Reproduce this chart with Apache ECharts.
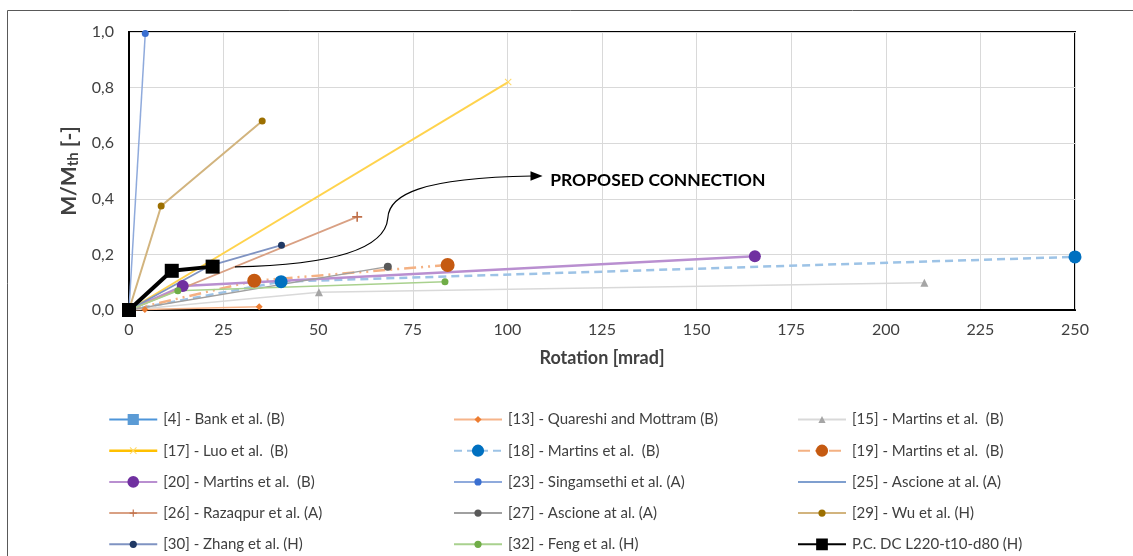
<!DOCTYPE html>
<html>
<head>
<meta charset="utf-8">
<script src="https://cdn.jsdelivr.net/npm/echarts@6/dist/echarts.min.js"></script>
<style>
  html, body { margin: 0; padding: 0; background: #fff; }
  #chart { width: 1133px; height: 556px; }
</style>
</head>
<body>
<div id="chart"></div>
<script>
// Rotation [mrad] vs normalised moment M/Mth for beam-column connections
const xTicks = [0, 25, 50, 75, 100, 125, 150, 175, 200, 225, 250];
const yTicks = [0, 0.2, 0.4, 0.6, 0.8, 1.0];

const bank4 = [[0, 0]];
const quareshi13 = [[0, 0], [4.2, 0.002], [34.4, 0.012]];
const martins15 = [[0, 0], [50.2, 0.064], [210.2, 0.098]];
const luo17 = [[0, 0], [100.2, 0.82]];
const martins18 = [[0, 0], [40.2, 0.102], [250, 0.191]];
const martins19 = [[0, 0], [33.1, 0.105], [84.2, 0.162]];
const martins20 = [[0, 0], [14.2, 0.086], [165.4, 0.193]];
const singamsethi23 = [[0, 0], [4.3, 0.995]];
const ascione25 = [[0, 0]];
const razaqpur26 = [[0, 0], [60.3, 0.335]];
const ascione27 = [[0, 0], [68.4, 0.156]];
const wu29 = [[0, 0], [8.5, 0.374], [35.2, 0.68]];
const zhang30 = [[0, 0], [21.5, 0.16], [40.3, 0.233]];
const feng32 = [[0, 0], [12.9, 0.069], [83.5, 0.102]];
const proposed = [[0, 0], [11.3, 0.141], [22.1, 0.156]];

const seriesNames = [
  '[4] - Bank et al. (B)',
  '[13] - Quareshi and Mottram (B)',
  '[15] - Martins et al.  (B)',
  '[17] - Luo et al.  (B)',
  '[18] - Martins et al.  (B) ',
  '[19] - Martins et al.  (B)  ',
  '[20] - Martins et al.  (B)   ',
  '[23] - Singamsethi et al. (A)',
  '[25] - Ascione at al. (A)',
  '[26] - Razaqpur et al. (A)',
  '[27] - Ascione at al. (A) ',
  '[29] - Wu et al. (H)',
  '[30] - Zhang et al. (H)',
  '[32] - Feng et al. (H)',
  'P.C. DC L220-t10-d80 (H)'
];

// annotation curve and arrow, in data units
const arrowCurve1 = [[28.0, 0.155], [53.1, 0.162], [67.7, 0.216], [68.4, 0.331]];
const arrowCurve2 = [[68.4, 0.331], [68.7, 0.414], [76.9, 0.475], [106.5, 0.482]];
const arrowHead = [[109.3, 0.482], [106.1, 0.499], [106.1, 0.465]];
const annotationAnchor = [111.3, 0.468];
const annotationText = 'PROPOSED CONNECTION';

const FONT = 'Lato, "Open Sans", sans-serif';
const CROSS = 'path://M1,0L5,4L9,0L10,1L6,5L10,9L9,10L5,6L1,10L0,9L4,5L0,1Z';
const PLUS = 'path://M4.2,0H5.8V4.2H10V5.8H5.8V10H4.2V5.8H0V4.2H4.2Z';

function line(name, data, color, width, symbol, symbolSize, symbolColor, extra) {
  return Object.assign({
    name: name,
    type: 'line',
    data: data,
    symbol: symbol,
    symbolSize: symbolSize,
    showSymbol: symbol !== 'none',
    lineStyle: { color: color, width: width },
    itemStyle: { color: symbolColor, borderWidth: 0 },
    emphasis: { disabled: true },
    animation: false
  }, extra || {});
}

const series = [
  line(seriesNames[1], quareshi13, '#f6b48a', 1.5, 'diamond', 7, '#ed7d31'),
  line(seriesNames[2], martins15, '#d9d9d9', 1.5, 'triangle', 8, '#a5a5a5'),
  line(seriesNames[3], luo17, '#ffd34d', 2, CROSS, 7, '#ffd966'),
  line(seriesNames[4], martins18, '#9dc3e6', 2.5, 'circle', 13, '#0070c0', { lineStyle: { color: '#9dc3e6', width: 2.5, type: [8, 5] } }),
  line(seriesNames[5], martins19, '#f4b183', 2.5, 'circle', 14, '#c55a11', { lineStyle: { color: '#f4b183', width: 2.5, type: [12, 5, 2, 5, 2, 5] } }),
  line(seriesNames[6], martins20, '#b98fd0', 2.5, 'circle', 12, '#7030a0'),
  line(seriesNames[7], singamsethi23, '#8faadc', 1.5, 'circle', 7, '#3a6fd1'),
  line(seriesNames[8], ascione25, '#7f9fcf', 1.5, 'none', 0, '#7f9fcf'),
  line(seriesNames[9], razaqpur26, '#d9a083', 1.8, PLUS, 10, '#c0704a'),
  line(seriesNames[10], ascione27, '#a0a0a0', 1.5, 'circle', 8, '#595959'),
  line(seriesNames[11], wu29, '#d2b47e', 2, 'circle', 7, '#9c6f00'),
  line(seriesNames[12], zhang30, '#7f93c2', 1.8, 'circle', 7, '#1f3864'),
  line(seriesNames[13], feng32, '#a9d18e', 1.5, 'circle', 7, '#70ad47'),
  line(seriesNames[0], bank4, '#4e95d9', 2.5, 'rect', 12, '#5b9bd5'),
  line(seriesNames[14], proposed, '#000000', 4, 'rect', 14, '#000000', { z: 10 })
];

// legend icon tweaks: larger markers get a border in their own colour
const legendIconStyle = {};
legendIconStyle[seriesNames[0]] = { itemStyle: { borderColor: '#5b9bd5', borderWidth: 4 } };
legendIconStyle[seriesNames[3]] = { lineStyle: { color: '#ffc000', width: 2.5 } };
legendIconStyle[seriesNames[4]] = { itemStyle: { borderColor: '#0070c0', borderWidth: 5 } };
legendIconStyle[seriesNames[5]] = { itemStyle: { borderColor: '#c55a11', borderWidth: 5 } };
legendIconStyle[seriesNames[6]] = { itemStyle: { borderColor: '#7030a0', borderWidth: 4.5 } };
legendIconStyle[seriesNames[8]] = { itemStyle: { opacity: 0 } };
legendIconStyle[seriesNames[9]] = { itemStyle: { borderColor: '#c0704a', borderWidth: 0 } };
legendIconStyle[seriesNames[14]] = { itemStyle: { borderColor: '#000000', borderWidth: 4.5 } };

function legendColumn(names, left) {
  return {
    orient: 'vertical',
    left: left,
    top: 412,
    height: 160,
    padding: 0,
    itemWidth: 48,
    itemHeight: 9,
    itemGap: 16.2,
    selectedMode: false,
    data: names.map(n => Object.assign({ name: n }, legendIconStyle[n] || {})),
    textStyle: { fontFamily: FONT, fontSize: 15, color: '#404040', lineHeight: 14, padding: [0, 0, 0, 1] }
  };
}

const chart = echarts.init(document.getElementById('chart'), null, { renderer: 'canvas' });

chart.setOption({
  backgroundColor: '#ffffff',
  animation: false,
  grid: {
    left: 129, right: 58, top: 32, bottom: 246,
    show: true, borderColor: '#000000', borderWidth: 2, backgroundColor: 'transparent'
  },
  xAxis: {
    type: 'value',
    min: xTicks[0], max: xTicks[xTicks.length - 1], interval: 25,
    name: 'Rotation [mrad]',
    nameLocation: 'middle',
    nameGap: 39,
    nameTextStyle: { fontFamily: FONT, fontSize: 18, fontWeight: 'bold', color: '#404040' },
    axisLine: { show: true, onZero: false, lineStyle: { color: '#000000', width: 2 } },
    axisTick: { show: false },
    axisLabel: { margin: 12, fontFamily: FONT, fontSize: 16, color: '#404040',
      formatter: v => xTicks.includes(v) ? String(v) : '' },
    splitLine: { show: true, lineStyle: { color: '#d9d9d9', width: 1 } }
  },
  yAxis: {
    type: 'value',
    min: yTicks[0], max: yTicks[yTicks.length - 1], interval: 0.2,
    name: '{a|M/M}{b|th}{a| [-]}',
    nameLocation: 'middle',
    nameRotate: 90,
    nameGap: 41,
    nameTextStyle: {
      rich: {
        a: { fontFamily: FONT, fontSize: 21, fontWeight: 'bold', color: '#404040' },
        b: { fontFamily: FONT, fontSize: 15, fontWeight: 'bold', color: '#404040', padding: [8, 0, 0, 0] }
      }
    },
    axisLine: { show: true, onZero: false, lineStyle: { color: '#000000', width: 2 } },
    axisTick: { show: false },
    axisLabel: { margin: 15, fontFamily: FONT, fontSize: 16, color: '#404040',
      formatter: v => v.toFixed(1).replace('.', ',') },
    splitLine: { show: true, lineStyle: { color: '#d9d9d9', width: 1 } }
  },
  legend: [
    legendColumn([seriesNames[0], seriesNames[3], seriesNames[6], seriesNames[9], seriesNames[12]], 108),
    legendColumn([seriesNames[1], seriesNames[4], seriesNames[7], seriesNames[10], seriesNames[13]], 453),
    legendColumn([seriesNames[2], seriesNames[5], seriesNames[8], seriesNames[11], seriesNames[14]], 797)
  ],
  series: series
});

// annotation placed through the grid's coordinate system
function px(p) { return chart.convertToPixel({ gridIndex: 0 }, p); }
function bezier(pts) {
  const a = px(pts[0]), c1 = px(pts[1]), c2 = px(pts[2]), b = px(pts[3]);
  return {
    type: 'bezierCurve',
    shape: { x1: a[0], y1: a[1], cpx1: c1[0], cpy1: c1[1], cpx2: c2[0], cpy2: c2[1], x2: b[0], y2: b[1] },
    style: { stroke: '#000000', lineWidth: 1.2, fill: null },
    z: 20
  };
}
const anchor = px(annotationAnchor);
chart.setOption({
  graphic: [
    {
      type: 'rect',
      shape: { x: 7.5, y: 10.5, width: 1300, height: 700 },
      style: { stroke: '#595959', lineWidth: 1, fill: null },
      silent: true, z: 0
    },
    bezier(arrowCurve1),
    bezier(arrowCurve2),
    {
      type: 'polygon',
      shape: { points: arrowHead.map(px) },
      style: { fill: '#000000' },
      z: 20
    },
    {
      type: 'text',
      x: anchor[0], y: anchor[1],
      style: {
        text: annotationText,
        fontFamily: FONT, fontSize: 17.5, fontWeight: 'bold', fill: '#000000',
        textVerticalAlign: 'middle', verticalAlign: 'middle'
      },
      z: 20
    }
  ]
});
</script>
</body>
</html>
